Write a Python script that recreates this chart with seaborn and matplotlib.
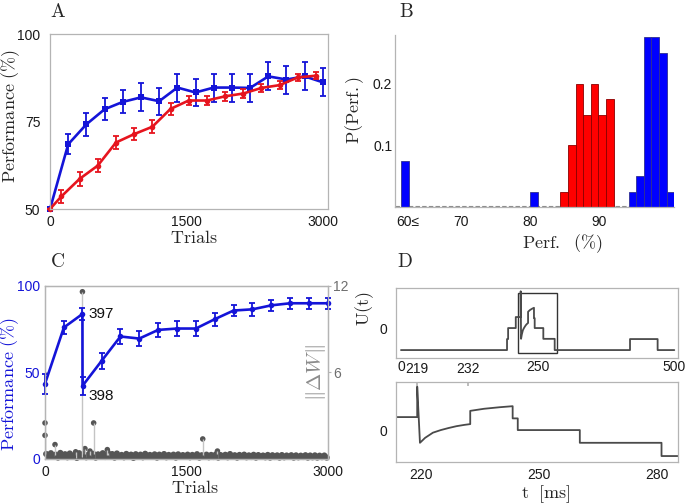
import numpy as np
import pandas as pd
import matplotlib
matplotlib.use('Agg')
import matplotlib.pyplot as plt
import seaborn as sns
from matplotlib.patches import Rectangle

# ---- panel A: learning curves ----
trials_blue = [0, 200, 400, 600, 800, 1000, 1200, 1400, 1600, 1800, 2000, 2200, 2400, 2600, 2800, 3000]
perf_blue = [50, 68.5, 74.2, 78.5, 80.6, 81.9, 80.8, 84.7, 83.3, 84.7, 84.7, 84.6, 87.9, 87.0, 87.9, 86.2]
err_blue = [0, 2.9, 3.3, 3.2, 3.3, 4.0, 3.9, 4.0, 3.9, 4.0, 4.0, 4.0, 4.0, 4.0, 4.0, 4.0]

trials_red = [0, 125, 325, 525, 725, 925, 1125, 1325, 1525, 1725, 1925, 2125, 2325, 2525, 2725, 2925]
perf_red = [50, 53.6, 58.6, 62.4, 69.0, 71.4, 73.5, 78.6, 81.0, 81.0, 82.2, 83.0, 84.6, 85.4, 87.6, 88.1]
err_red = [0, 1.9, 2.0, 1.9, 1.9, 1.8, 1.8, 1.7, 1.3, 1.3, 1.2, 1.2, 1.1, 1.1, 1.0, 1.0]

# ---- panel B: performance histograms ----
bin_width = 1.1
bin_range = (61.3, 100.9)
blue_bins = [61.85, 80.55, 94.85, 95.95, 97.05, 98.15, 99.25, 100.35]
blue_p = [0.075, 0.025, 0.025, 0.05, 0.275, 0.275, 0.25, 0.025]
red_bins = [84.95, 86.05, 87.15, 88.25, 89.35, 90.45, 91.55]
red_p = [0.025, 0.1, 0.2, 0.15, 0.2, 0.15, 0.175]
b_ticks = [62.3, 70, 80, 90]
b_ticklabels = ['60≤', '70', '80', '90']

# ---- panel C: performance with weight change ----
trials_c = [0, 200, 397, 398, 600, 800, 1000, 1200, 1400, 1600, 1800, 2000, 2200, 2400, 2600, 2800, 3000]
perf_c = [43.5, 76.0, 83.8, 42.3, 56.7, 70.8, 69.6, 74.6, 75.4, 75.4, 80.8, 85.8, 86.5, 88.8, 90.0, 90.0, 90.0]
err_c = [5.8, 3.7, 3.3, 5.1, 4.5, 4.2, 4.5, 4.2, 4.1, 4.3, 3.8, 3.4, 3.6, 3.2, 3.1, 3.1, 3.1]

stem_trials = [0, 0, 106, 325, 397, 424, 477, 516, 661, 670, 1673, 1829]
stem_dw = [2.5, 1.64, 1.0, 0.5, 11.6, 0.72, 0.55, 2.5, 0.65, 0.45, 1.39, 0.55]

band_dw = [
    0.35, 0.15, 0.40, 0.20, 0.30, 0.10, 0.42, 0.18, 0.33, 0.12, 0.38, 0.22, 0.28, 0.08, 0.40, 0.16, 0.34, 0.12, 0.30, 0.20,
    0.36, 0.10, 0.32, 0.18, 0.40, 0.14, 0.30, 0.22, 0.34, 0.10, 0.38, 0.16, 0.28, 0.12, 0.35, 0.20, 0.30, 0.08, 0.33, 0.18,
    0.30, 0.12, 0.36, 0.15, 0.28, 0.20, 0.32, 0.10, 0.30, 0.16, 0.34, 0.12, 0.28, 0.18, 0.30, 0.10, 0.32, 0.15, 0.27, 0.20,
    0.30, 0.12, 0.28, 0.16, 0.33, 0.10, 0.26, 0.18, 0.30, 0.12, 0.28, 0.14, 0.32, 0.10, 0.27, 0.16, 0.29, 0.12, 0.34, 0.15,
    0.26, 0.10, 0.28, 0.16, 0.30, 0.12, 0.25, 0.14, 0.29, 0.10, 0.27, 0.15, 0.24, 0.12, 0.28, 0.10, 0.26, 0.14, 0.25, 0.10,
    0.27, 0.12, 0.24, 0.15, 0.26, 0.10, 0.25, 0.12, 0.23, 0.14, 0.26, 0.10, 0.24, 0.12, 0.25, 0.10, 0.23, 0.13, 0.24, 0.10]
band_trials = np.linspace(12.5, 2987.5, len(band_dw))

# ---- panel D: membrane potential trace ----
t_ms = [0, 194, 194, 196, 196, 210, 210, 219, 219, 219.7, 221, 223, 225, 227, 229, 231, 232.5,
        232.5, 236, 240, 243.3, 243.3, 244.6, 244.6, 260.4, 260.4, 281.2, 281.2, 419, 419, 469.5, 469.5, 500]
u_t = [-1, -1, -0.5, -0.5, 0, 0, 0.5, 0.5, 1.67, -0.49, -0.3, -0.1, 0.0, 0.08, 0.15, 0.2, 0.23,
       0.74, 0.82, 0.88, 0.92, 0.45, 0.45, 0, 0, -0.49, -0.49, -1, -1, -0.5, -0.5, -1, -1]
zoom_window = [213.6, 285.4]
zoom_u = [-1.15, 1.6]

BLUE = '#1414d8'
RED = '#e6141e'
SPINE = '#b4b4b4'
GRAY = '#6e6e6e'
LABEL_SIZE = 13

sns.set_theme(style='white')
plt.rcParams['font.family'] = ['Liberation Sans', 'DejaVu Sans']
plt.rcParams['mathtext.fontset'] = 'cm'


def style_axes(ax, spines=('left', 'right', 'top', 'bottom')):
    for name, sp in ax.spines.items():
        sp.set_visible(name in spines)
        sp.set_color(SPINE)
        sp.set_linewidth(0.9)
    ax.tick_params(direction='in', length=3, width=0.8, color=SPINE, labelsize=10,
                   labelcolor='#1a1a1a')


fig = plt.figure(figsize=(6.85, 5.04), dpi=100)

# ----- A -----
axA = fig.add_axes([0.0730, 0.5853, 0.4063, 0.3472])
for x, y, e, c, m in [(trials_blue, perf_blue, err_blue, BLUE, 's'), (trials_red, perf_red, err_red, RED, 'o')]:
    axA.errorbar(x, y, yerr=e, fmt='none', ecolor=c, elinewidth=1.3, capsize=2.5, capthick=1.3, clip_on=False)
    sns.lineplot(x=x, y=y, ax=axA, color=c, lw=1.9, marker=m, markersize=4, markeredgewidth=0,
                 estimator=None, sort=False, clip_on=False)
axA.set_xlim(0, 3060)
axA.set_ylim(50, 100)
axA.set_xticks([0, 1500, 3000])
axA.set_yticks([50, 75, 100])
style_axes(axA)
axA.tick_params(axis='y', pad=7)
axA.tick_params(axis='x', pad=4)
axA.set_xlabel(r'$\mathrm{Trials}$', fontsize=LABEL_SIZE)
axA.set_ylabel(r'$\mathrm{Performance\ (\%)}$', fontsize=LABEL_SIZE)
axA.xaxis.set_label_coords(0.518, -0.12)
axA.yaxis.set_label_coords(-0.099, 0.53)

# ----- B -----
axB = fig.add_axes([0.5766, 0.5893, 0.4077, 0.3413])
hist_blue = pd.DataFrame({'perf': blue_bins, 'p': blue_p})
hist_red = pd.DataFrame({'perf': red_bins, 'p': red_p})
axB.axhline(0.0015, color='#8a8a8a', lw=0.8, ls=(0, (4, 2)), zorder=0.5)
sns.histplot(data=hist_blue, x='perf', weights='p', binwidth=bin_width, binrange=bin_range, ax=axB,
             color='#0000ff', alpha=1, edgecolor='#303090', linewidth=0.6)
sns.histplot(data=hist_red, x='perf', weights='p', binwidth=bin_width, binrange=bin_range, ax=axB,
             color='#ff0000', alpha=1, edgecolor='#8a0000', linewidth=0.6)
axB.set_xlim(60.4, 100.9)
axB.set_ylim(0, 0.279)
axB.set_xticks(b_ticks)
axB.set_xticklabels(b_ticklabels)
axB.set_yticks([0.1, 0.2])
style_axes(axB, spines=('left', 'bottom'))
axB.tick_params(axis='y', pad=2, length=0)
axB.tick_params(axis='x', pad=6, length=0)
axB.set_xlabel(r'$\mathrm{Perf.\ \ (\%)}$', fontsize=LABEL_SIZE)
axB.set_ylabel(r'$\mathrm{P(Perf.)}$', fontsize=LABEL_SIZE)
axB.xaxis.set_label_coords(0.6, -0.145)
axB.yaxis.set_label_coords(-0.104, 0.56)

# ----- C -----
axC = fig.add_axes([0.0657, 0.0893, 0.4136, 0.3433])
axC2 = axC.twinx()
axC2.vlines(stem_trials, 0, stem_dw, color='#c4c4c4', lw=1.0)
axC2.vlines(band_trials, 0, band_dw, color='#555555', lw=2.2)
sns.scatterplot(x=band_trials, y=band_dw, ax=axC2, color='#555555', s=20, edgecolor='none', clip_on=False)
sns.scatterplot(x=stem_trials, y=stem_dw, ax=axC2, color='#555555', s=16, edgecolor='none', clip_on=False)
axC2.set_ylim(0, 12)
axC2.set_yticks([6, 12])
axC.set_zorder(axC2.get_zorder() + 1)
axC.patch.set_visible(False)
axC.errorbar(trials_c, perf_c, yerr=err_c, fmt='none', ecolor=BLUE, elinewidth=1.3, capsize=2.5,
             capthick=1.3, clip_on=False)
sns.lineplot(x=trials_c, y=perf_c, ax=axC, color=BLUE, lw=1.9, marker='o', markersize=4,
             markeredgewidth=0, estimator=None, sort=False, clip_on=False)
axC.annotate('397', xy=(trials_c[2], perf_c[2]), xytext=(4, 0), textcoords='offset points',
             ha='left', va='center', fontsize=11, color='#111111')
axC.annotate('398', xy=(trials_c[3], perf_c[3]), xytext=(4, -7), textcoords='offset points',
             ha='left', va='center', fontsize=11, color='#111111')
axC.set_xlim(0, 3005)
axC2.set_xlim(0, 3005)
axC.set_ylim(0, 100)
axC.set_xticks([0, 1500, 3000])
axC.set_yticks([0, 50, 100])
style_axes(axC)
style_axes(axC2)
axC.tick_params(axis='y', labelcolor=BLUE, pad=3.5)
axC.tick_params(axis='x', pad=4)
axC2.tick_params(axis='y', labelcolor=GRAY, pad=1.5, direction='out', length=2)
axC.set_xlabel(r'$\mathrm{Trials}$', fontsize=LABEL_SIZE)
axC.set_ylabel(r'$\mathrm{Performance\ (\%)}$', fontsize=LABEL_SIZE, color=BLUE)
axC.xaxis.set_label_coords(0.53, -0.121)
axC.yaxis.set_label_coords(-0.083, 0.43)
axC2.text(0.958, 0.5, r'$\|\Delta W\|$', transform=axC2.transAxes, rotation=90,
          ha='center', va='center', fontsize=15, color='#8c8c8c')

# ----- D -----
axD1 = fig.add_axes([0.5781, 0.2897, 0.4117, 0.1389])
sns.lineplot(x=t_ms, y=u_t, ax=axD1, color='#4a4a4a', lw=1.3, estimator=None, sort=False)
axD1.add_patch(Rectangle((zoom_window[0], zoom_u[0]), zoom_window[1] - zoom_window[0],
                         zoom_u[1] - zoom_u[0], fill=False, ec='#333333', lw=1.0))
axD1.set_xlim(-9.1, 506.8)
axD1.set_ylim(-1.36, 1.82)
axD1.set_xticks([0, 250, 500])
axD1.set_yticks([0])
style_axes(axD1)
axD1.tick_params(axis='y', pad=6)
axD1.tick_params(axis='x', pad=1.5)
axD1.set_ylabel(r'$\mathrm{U(t)}$', fontsize=LABEL_SIZE)
axD1.yaxis.set_label_coords(-0.071, 0.71)

axD2 = fig.add_axes([0.5781, 0.0833, 0.4117, 0.1587])
sns.lineplot(x=t_ms, y=u_t, ax=axD2, color='#4a4a4a', lw=1.3, estimator=None, sort=False)
axD2.set_xlim(*zoom_window)
axD2.set_ylim(-1.23, 1.85)
axD2.set_xticks([220, 250, 280])
axD2.set_yticks([0])
style_axes(axD2)
axD2.tick_params(axis='y', pad=6)
axD2.tick_params(axis='x', pad=4.5)
top = axD2.secondary_xaxis('top')
top.set_xticks([219, 232])
top.tick_params(direction='in', length=3, color=SPINE, labelsize=10, pad=4, labelcolor='#1a1a1a')
top.spines['top'].set_visible(False)
axD2.set_xlabel(r'$\mathrm{t\ \ [ms]}$', fontsize=LABEL_SIZE)
axD2.xaxis.set_label_coords(0.53, -0.26)

# panel letters
for letter, x, y in [('A', 58, 12), ('B', 406, 12), ('C', 57, 262), ('D', 405, 262)]:
    fig.text(x / 685, 1 - y / 504, r'$\mathrm{%s}$' % letter, fontsize=14, ha='center', va='center')

fig.savefig('out.png', dpi=100)
